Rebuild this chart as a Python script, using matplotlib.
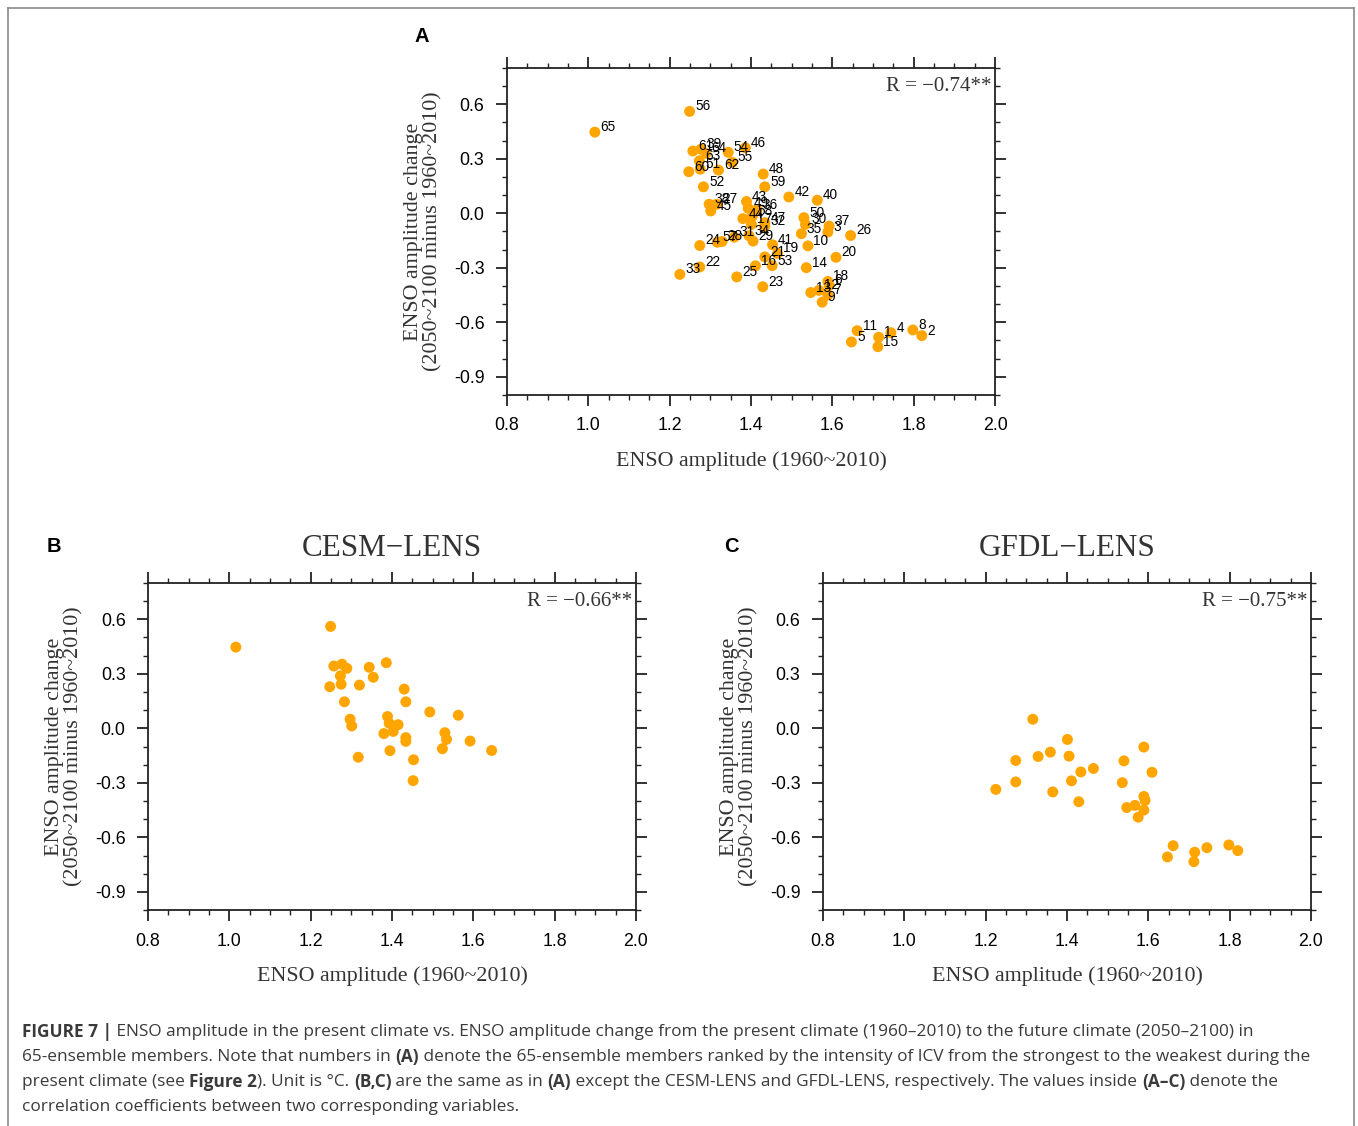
import numpy as np
import matplotlib
matplotlib.use('Agg')
import matplotlib.pyplot as plt
from matplotlib.lines import Line2D
from matplotlib.ticker import MultipleLocator, FormatStrFormatter

plt.rcParams['axes.unicode_minus'] = False

W, H = 1358, 1126
DOT = '#FFA500'
SANS = 'Liberation Sans'
SERIF = 'Liberation Serif'
CAP_FONT = 'Open Sans'

# CESM-LENS members (id, present amplitude, future change)
cesm_id = [65, 56, 61, 39, 64, 63, 51, 60, 54, 55, 46, 62, 52, 38, 45, 48, 59, 42,
           40, 43, 49, 36, 58, 44, 47, 32, 50, 30, 35, 37, 26, 57, 34, 41, 53]
cesm_amp = [1.016, 1.249, 1.257, 1.277, 1.289, 1.273, 1.275, 1.247, 1.344, 1.354,
            1.386, 1.320, 1.283, 1.297, 1.301, 1.430, 1.434, 1.493, 1.563, 1.389,
            1.393, 1.415, 1.403, 1.380, 1.434, 1.434, 1.530, 1.534, 1.524, 1.592,
            1.645, 1.317, 1.395, 1.453, 1.452]
cesm_chg = [0.447, 0.561, 0.343, 0.353, 0.330, 0.289, 0.243, 0.229, 0.336, 0.281,
            0.361, 0.238, 0.146, 0.050, 0.013, 0.216, 0.146, 0.090, 0.072, 0.065,
            0.028, 0.020, -0.017, -0.029, -0.051, -0.072, -0.024, -0.061, -0.112,
            -0.070, -0.122, -0.159, -0.123, -0.173, -0.288]

# GFDL-LENS members
gfdl_id = [27, 17, 24, 28, 31, 29, 21, 19, 16, 22, 33, 25, 23, 3, 10, 20, 14, 18,
           6, 13, 12, 7, 9, 11, 5, 1, 15, 4, 8, 2]
gfdl_amp = [1.316, 1.401, 1.274, 1.329, 1.359, 1.405, 1.434, 1.465, 1.411, 1.274,
            1.225, 1.365, 1.429, 1.589, 1.540, 1.609, 1.536, 1.589, 1.592, 1.547,
            1.567, 1.589, 1.575, 1.661, 1.647, 1.714, 1.712, 1.744, 1.798, 1.820]
gfdl_chg = [0.050, -0.061, -0.177, -0.155, -0.131, -0.153, -0.240, -0.221, -0.289,
            -0.295, -0.336, -0.350, -0.404, -0.103, -0.179, -0.242, -0.299, -0.375,
            -0.397, -0.436, -0.424, -0.450, -0.489, -0.646, -0.708, -0.682, -0.734,
            -0.657, -0.642, -0.673]

r_all = '\u22120.74**'
r_cesm = '\u22120.66**'
r_gfdl = '\u22120.75**'

XLABEL = 'ENSO amplitude (1960~2010)'
YLABEL = 'ENSO amplitude change\n(2050~2100 minus 1960~2010)'

CAPTION = [
    [('FIGURE 7 |', True), (' ENSO amplitude in the present climate vs. ENSO amplitude change from the '
                            'present climate (1960\u20132010) to the future climate (2050\u20132100) in', False)],
    [('65-ensemble members. Note that numbers in ', False), ('(A)', True),
     (' denote the 65-ensemble members ranked by the intensity of ICV from the strongest to the weakest during the', False)],
    [('present climate (see ', False), ('Figure 2', True), ('). Unit is \u00b0C. ', False), ('(B,C)', True),
     (' are the same as in ', False), ('(A)', True),
     (' except the CESM-LENS and GFDL-LENS, respectively. The values inside ', False), ('(A\u2013C)', True),
     (' denote the', False)],
    [('correlation coefficients between two corresponding variables.', False)],
]


def px_axes(fig, left, top, right, bottom):
    return fig.add_axes([left / W, 1 - bottom / H, (right - left) / W, (bottom - top) / H])


def style_axes(ax, r_text, ylabel_x=-0.133):
    ax.set_xlim(0.8, 2.0)
    ax.set_ylim(-1.0, 0.8)
    ax.xaxis.set_major_locator(MultipleLocator(0.2))
    ax.xaxis.set_minor_locator(MultipleLocator(0.05))
    ax.yaxis.set_major_locator(MultipleLocator(0.3))
    ax.yaxis.set_minor_locator(MultipleLocator(0.1))
    ax.xaxis.set_major_formatter(FormatStrFormatter('%.1f'))
    ax.yaxis.set_major_formatter(FormatStrFormatter('%.1f'))
    ax.set_yticks([0.6, 0.3, 0.0, -0.3, -0.6, -0.9])
    for s in ax.spines.values():
        s.set_linewidth(1.3)
        s.set_color('#222222')
    ax.tick_params(which='both', direction='out', top=True, right=True, color='#222222')
    ax.tick_params(which='major', length=7.7, width=1.3, pad=8.5, labelsize=12.8)
    ax.tick_params(which='minor', length=3.6, width=1.0)
    for lab in ax.get_xticklabels() + ax.get_yticklabels():
        lab.set_fontfamily(SANS)
    ax.set_xlabel(XLABEL, fontfamily=SERIF, fontsize=15.8, color='#333333')
    ax.xaxis.set_label_coords(0.5, -0.172)
    ax.set_ylabel(YLABEL, fontfamily=SERIF, fontsize=15.8, color='#333333', linespacing=0.98)
    ax.yaxis.set_label_coords(ylabel_x, 0.5)
    ax.text(0.992, 0.972, 'R = ' + r_text, transform=ax.transAxes, ha='right', va='top',
            fontfamily=SERIF, fontsize=15, color='#333333')


def text_width(fig, renderer, s, **kw):
    a = fig.text(0, 0, 'x' + s + 'x', **kw)
    b = fig.text(0, 0, 'xx', **kw)
    w = a.get_window_extent(renderer).width - b.get_window_extent(renderer).width
    a.remove()
    b.remove()
    return w


def draw_caption(fig):
    renderer = fig.canvas.get_renderer()
    y0 = 1032
    for i, line in enumerate(CAPTION):
        x = 22.0
        y = y0 + i * 25
        for text, bold in line:
            kw = dict(fontfamily=CAP_FONT, fontsize=12.4, color='#3a3a3a',
                      fontweight='bold' if bold else 'normal')
            fig.text(x / W, 1 - y / H, text, ha='left', va='center', **kw)
            x += text_width(fig, renderer, text, **kw)


def main():
    fig = plt.figure(figsize=(W / 100, H / 100), dpi=100)

    # frame around the figure
    for xs, ys in [((8, 8), (8, H)), ((8, 1354), (8, 8)), ((1354, 1354), (8, H))]:
        fig.add_artist(Line2D([x / W for x in xs], [1 - y / H for y in ys],
                              color='#8a8a8a', linewidth=1.2))

    # panel A: all 65 members with labels
    ax_a = px_axes(fig, 507, 68, 995, 395)
    amp = cesm_amp + gfdl_amp
    chg = cesm_chg + gfdl_chg
    ids = cesm_id + gfdl_id
    ax_a.scatter(amp, chg, s=62, color=DOT, edgecolors='none', zorder=3)
    for x, y, n in zip(amp, chg, ids):
        ax_a.annotate(str(n), (x, y), xytext=(4.0, 3.6), textcoords='offset points',
                      ha='left', va='center', fontsize=9.8, fontfamily=SANS, zorder=4)
    style_axes(ax_a, r_all)

    # panel B: CESM-LENS
    ax_b = px_axes(fig, 148, 583, 636, 910)
    ax_b.scatter(cesm_amp, cesm_chg, s=62, color=DOT, edgecolors='none', zorder=3)
    style_axes(ax_b, r_cesm)
    ax_b.text(0.5, 1 + 27 / 327, 'CESM\u2212LENS', transform=ax_b.transAxes, ha='center',
              va='baseline', fontfamily=SERIF, fontsize=22.4, color='#333333')

    # panel C: GFDL-LENS
    ax_c = px_axes(fig, 823, 583, 1311, 910)
    ax_c.scatter(gfdl_amp, gfdl_chg, s=62, color=DOT, edgecolors='none', zorder=3)
    style_axes(ax_c, r_gfdl)
    ax_c.text(0.5, 1 + 27 / 327, 'GFDL\u2212LENS', transform=ax_c.transAxes, ha='center',
              va='baseline', fontfamily=SERIF, fontsize=22.4, color='#333333')

    for letter, (x, y) in {'A': (422, 36), 'B': (54, 546), 'C': (731, 546)}.items():
        fig.text(x / W, 1 - y / H, letter, ha='center', va='center', fontsize=14.5,
                 fontweight='bold', fontfamily=SANS)

    draw_caption(fig)
    fig.savefig('out.png', dpi=100)


if __name__ == '__main__':
    main()
